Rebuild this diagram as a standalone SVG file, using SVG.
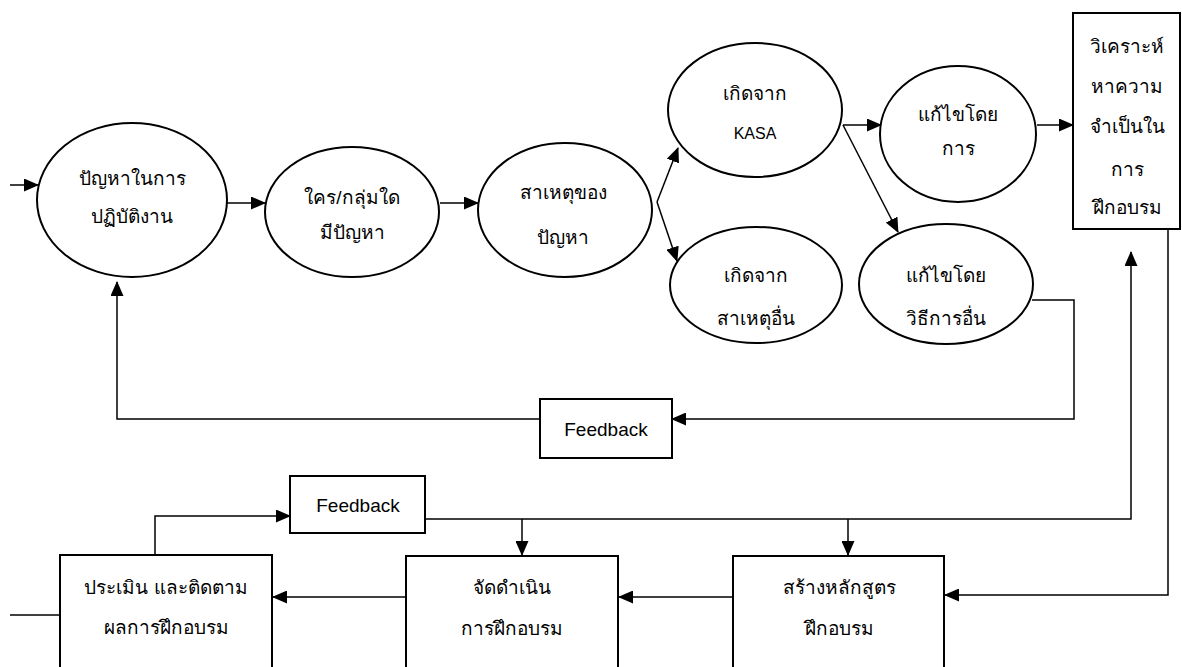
<svg xmlns="http://www.w3.org/2000/svg" width="1182" height="667" viewBox="0 0 1182 667">
<defs>
<marker id="arr" markerUnits="userSpaceOnUse" markerWidth="15" markerHeight="13" refX="14" refY="6.5" orient="auto">
<path d="M0,0 L15,6.5 L0,13 Z" fill="#000"/>
</marker>
<style>
.node{fill:#fff;stroke:#000;stroke-width:2}
.th{font-family:"Liberation Sans","Noto Sans","DejaVu Sans",sans-serif;font-size:19px;fill:#000;text-anchor:middle}
.en{font-family:"Liberation Sans",Arial,sans-serif;font-size:19px;fill:#000;text-anchor:middle}
.c{fill:none;stroke:#000;stroke-width:1.5}
</style>
</defs>
<rect width="1182" height="667" fill="#fff"/>
<g id="connectors">
<line class="c" x1="10" y1="185" x2="38" y2="185" marker-end="url(#arr)"/>
<line class="c" x1="227" y1="203" x2="265" y2="203" marker-end="url(#arr)"/>
<line class="c" x1="440" y1="203" x2="478" y2="203" marker-end="url(#arr)"/>
<line class="c" x1="657" y1="202" x2="678" y2="148" marker-end="url(#arr)"/>
<line class="c" x1="657" y1="202" x2="677" y2="261" marker-end="url(#arr)"/>
<line class="c" x1="843" y1="125" x2="881" y2="125" marker-end="url(#arr)"/>
<line class="c" x1="843" y1="125" x2="898" y2="232" marker-end="url(#arr)"/>
<line class="c" x1="1037" y1="125" x2="1073" y2="125" marker-end="url(#arr)"/>
<polyline class="c" points="1032,300 1074,300 1074,419 672,419" marker-end="url(#arr)"/>
<polyline class="c" points="540,419 117,419 117,282" marker-end="url(#arr)"/>
<polyline class="c" points="1168,230 1168,595 945,595" marker-end="url(#arr)"/>
<polyline class="c" points="425,519 1131,519 1131,252" marker-end="url(#arr)"/>
<line class="c" x1="522" y1="519" x2="522" y2="555" marker-end="url(#arr)"/>
<line class="c" x1="848" y1="519" x2="848" y2="555" marker-end="url(#arr)"/>
<line class="c" x1="733" y1="597" x2="619" y2="597" marker-end="url(#arr)"/>
<line class="c" x1="406" y1="597" x2="273" y2="597" marker-end="url(#arr)"/>
<polyline class="c" points="155,555 155,516 290,516" marker-end="url(#arr)"/>
<line class="c" x1="10" y1="615" x2="60" y2="615"/>
</g>
<g id="n1"><ellipse class="node" cx="132" cy="200" rx="95" ry="77"/><text class="th" x="132" y="185">ปัญหาในการ</text><text class="th" x="132" y="223">ปฏิบัติงาน</text></g>
<g id="n2"><ellipse class="node" cx="352" cy="212" rx="87" ry="65"/><text class="th" x="352" y="204">ใคร/กลุ่มใด</text><text class="th" x="352" y="239">มีปัญหา</text></g>
<g id="n3"><ellipse class="node" cx="565" cy="210" rx="87" ry="67"/><text class="th" x="563" y="199">สาเหตุของ</text><text class="th" x="563" y="244">ปัญหา</text></g>
<g id="n4"><ellipse class="node" cx="755" cy="110" rx="87" ry="67"/><text class="th" x="755" y="100">เกิดจาก</text><text class="en" x="755" y="139" style="font-size:16px">KASA</text></g>
<g id="n5"><ellipse class="node" cx="756" cy="285" rx="86" ry="58"/><text class="th" x="756" y="282">เกิดจาก</text><text class="th" x="756" y="325">สาเหตุอื่น</text></g>
<g id="n6"><ellipse class="node" cx="958" cy="134" rx="78" ry="68"/><text class="th" x="958" y="121">แก้ไขโดย</text><text class="th" x="958" y="155">การ</text></g>
<g id="n7"><ellipse class="node" cx="946" cy="284" rx="87" ry="60"/><text class="th" x="946" y="282">แก้ไขโดย</text><text class="th" x="946" y="325">วิธีการอื่น</text></g>
<g id="n8"><rect class="node" x="1073" y="13" width="107" height="216"/><text class="th" x="1127" y="53">วิเคราะห์</text><text class="th" x="1127" y="93">หาความ</text><text class="th" x="1127" y="133">จำเป็นใน</text><text class="th" x="1127" y="176">การ</text><text class="th" x="1127" y="214">ฝึกอบรม</text></g>
<g id="fb1"><rect class="node" x="540" y="399" width="132" height="59"/><text class="en" x="606" y="436">Feedback</text></g>
<g id="fb2"><rect class="node" x="290" y="476" width="135" height="57"/><text class="en" x="358" y="512">Feedback</text></g>
<g id="b1"><rect class="node" x="60" y="555" width="212" height="120"/><text class="th" x="166" y="594">ประเมิน และติดตาม</text><text class="th" x="166" y="634">ผลการฝึกอบรม</text></g>
<g id="b2"><rect class="node" x="406" y="556" width="212" height="120"/><text class="th" x="512" y="594">จัดดำเนิน</text><text class="th" x="512" y="635">การฝึกอบรม</text></g>
<g id="b3"><rect class="node" x="733" y="556" width="211" height="120"/><text class="th" x="839" y="594">สร้างหลักสูตร</text><text class="th" x="839" y="635">ฝึกอบรม</text></g>
</svg>
